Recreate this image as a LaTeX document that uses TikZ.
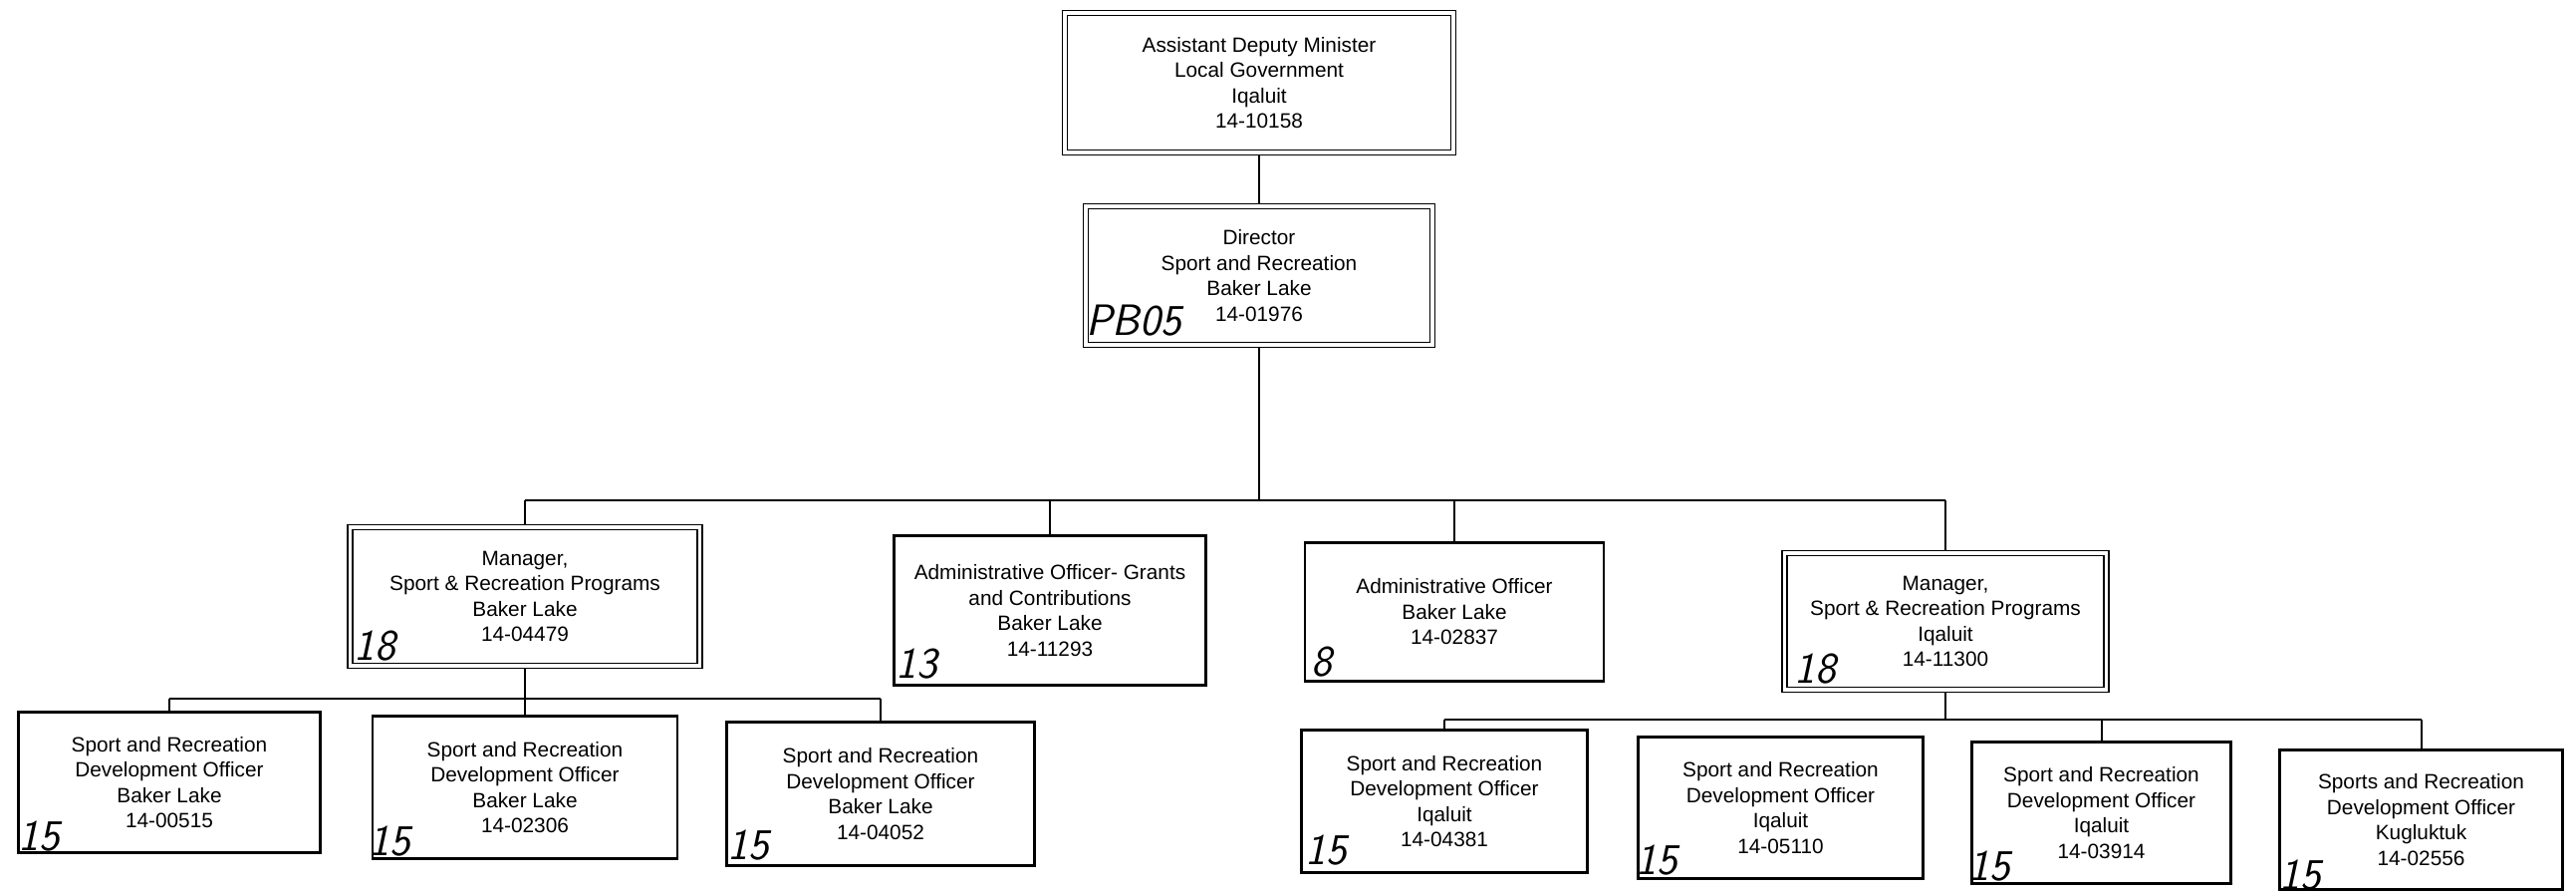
\documentclass[tikz,border=0pt]{standalone}
\usepackage{fontspec}
\newfontfamily\arialfont{Liberation Sans}
\usetikzlibrary{backgrounds}
\begin{document}
\begin{tikzpicture}[x=0.5pt,y=-0.5pt,
  txt/.style={font=\arialfont\fontsize{10.4}{12.75}\selectfont, align=center, inner sep=0pt, rectangle},
  single/.style={txt, draw, line width=1.2pt},
  dbl/.style={txt, draw, line width=0.9pt, double, double distance=1.6pt},
  conn/.style={line width=1pt},
  hand/.style={font=\fontsize{22}{22}\selectfont\sffamily\itshape, inner sep=0pt, anchor=base west}
]
\useasboundingbox (0,0) rectangle (2586,897);

% top levels
\node[dbl, minimum width=195pt, minimum height=70pt] (adm) at (1264,83)
  {Assistant Deputy Minister\\Local Government\\Iqaluit\\14-10158};
\node[dbl, minimum width=174pt, minimum height=69.5pt] (dir) at (1264,276.5)
  {Director\\Sport and Recreation\\Baker Lake\\14-01976};

% second level
\node[dbl, minimum width=175.5pt, minimum height=69.5pt] (mgrbl) at (527,598.5)
  {Manager,\\Sport \& Recreation Programs\\Baker Lake\\14-04479};
\node[single, minimum width=156.5pt, minimum height=75pt] (gc) at (1054,612.5)
  {Administrative Officer- Grants\\and Contributions\\Baker Lake\\14-11293};
\node[single, minimum width=150pt, minimum height=69.5pt] (ao) at (1460,614)
  {Administrative Officer\\Baker Lake\\14-02837};
\node[dbl, minimum width=161.5pt, minimum height=68.5pt] (mgriq) at (1953,623.5)
  {Manager,\\Sport \& Recreation Programs\\Iqaluit\\14-11300};

% bottom level, Baker Lake
\node[single, minimum width=151.5pt, minimum height=70.5pt] (bl1) at (170,785)
  {Sport and Recreation\\Development Officer\\Baker Lake\\14-00515};
\node[single, minimum width=153pt, minimum height=71.5pt] (bl2) at (527,790)
  {Sport and Recreation\\Development Officer\\Baker Lake\\14-02306};
\node[single, minimum width=154.5pt, minimum height=72pt] (bl3) at (884,796.5)
  {Sport and Recreation\\Development Officer\\Baker Lake\\14-04052};

% bottom level, Iqaluit
\node[single, minimum width=143.5pt, minimum height=71.5pt] (iq1) at (1450,804)
  {Sport and Recreation\\Development Officer\\Iqaluit\\14-04381};
\node[single, minimum width=143pt, minimum height=71pt] (iq2) at (1787.5,810.5)
  {Sport and Recreation\\Development Officer\\Iqaluit\\14-05110};
\node[single, minimum width=130pt, minimum height=71pt] (iq3) at (2109.5,815.5)
  {Sport and Recreation\\Development Officer\\Iqaluit\\14-03914};
\node[single, minimum width=142pt, minimum height=70pt] (iq4) at (2430.5,822.5)
  {Sports and Recreation\\Development Officer\\Kugluktuk\\14-02556};

% handwritten annotations
\node[hand] (hdir) at (1090,337) {PB05};
\node[hand] (hmgrbl) at (355,662) {18};
\node[hand] (hgc) at (899,680) {13};
\node[hand] (hao) at (1316,678) {8};
\node[hand] (hmgriq) at (1801,685) {18};
\node[hand] (hbl1) at (18,853) {15};
\node[hand] (hbl2) at (370,858) {15};
\node[hand] (hbl3) at (730,862) {15};
\node[hand] (hiq1) at (1310,867) {15};
\node[hand] (hiq2) at (1642,877) {15};
\node[hand] (hiq3) at (1976,883) {15};
\node[hand] (hiq4) at (2288,892) {15};

% connectors
\coordinate (mbus) at (1264,502);
\coordinate (blbus) at (527,701);
\coordinate (iqbus) at (1953,722);
\begin{pgfonlayer}{background}
\draw[conn] (adm.south) -- (dir.north);
\draw[conn] (dir.south) -- (dir.south |- mbus);
\draw[conn] (mgrbl.north |- mbus) -- (mgriq.north |- mbus);
\foreach \n in {mgrbl,gc,ao,mgriq}
  \draw[conn] (\n.north |- mbus) -- (\n.north);
\draw[conn] (mgrbl.south) -- (bl2.north);
\draw[conn] (bl1.north |- blbus) -- (bl3.north |- blbus);
\draw[conn] (bl1.north |- blbus) -- (bl1.north);
\draw[conn] (bl3.north |- blbus) -- (bl3.north);
\draw[conn] (mgriq.south) -- (mgriq.south |- iqbus);
\draw[conn] (iq1.north |- iqbus) -- (iq4.north |- iqbus);
\foreach \n in {iq1,iq3,iq4}
  \draw[conn] (\n.north |- iqbus) -- (\n.north);
\end{pgfonlayer}
\end{tikzpicture}
\end{document}
